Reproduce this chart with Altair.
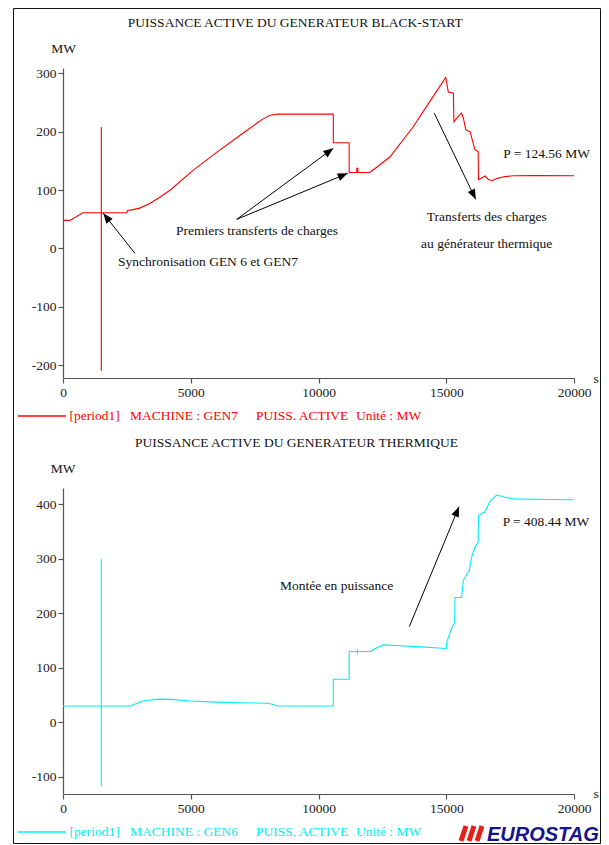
import math
import altair as alt
import pandas as pd

# ---------------- data ----------------
gen7_t = [0, 270, 780, 1500, 1500, 1500, 1500, 2500, 2520, 2700, 3000, 3400, 3800, 4200,
          5100, 6000, 7000, 7800, 8100, 8400, 10580, 10580, 11200, 11200, 11500, 11500,
          11540, 11540, 12000, 12280, 12800, 13700, 14300, 14980, 15080, 15280, 15300,
          15450, 15600, 15670, 15770, 15930, 16000, 16120, 16250, 16260, 16400, 16520,
          16650, 16780, 17000, 17300, 17650, 18500, 20000]
gen7_mw = [48, 48, 61, 61, 208, -210, 61, 61, 65, 66, 69, 77, 88, 100,
           134, 164, 196, 221, 228, 230, 230, 181, 181, 130, 130, 137,
           137, 130, 130, 139, 157, 208, 248, 293, 268, 266, 217,
           225, 232, 223, 203, 200, 189, 169, 166, 118, 121, 124,
           118, 116, 120, 123, 124.5, 124.6, 124.56]

gen6_t = [0, 1500, 1500, 1500, 1500, 2650, 2900, 3200, 3800, 4200, 5000, 6000, 7000,
          8000, 8200, 8400, 10580, 10580, 11200, 11200, 11520, 11520, 11520, 11520,
          12050, 12200, 12550, 13000, 14000, 15000, 15030, 15200, 15330, 15340, 15600,
          15670, 15900, 16000, 16130, 16250, 16260, 16500, 16580, 16710, 16970, 17300,
          17650, 19000, 20000]
gen6_mw = [30, 30, 300, -118, 30, 30, 35, 40, 42.5, 42, 39, 37, 36,
           35, 33, 30, 30, 79, 79, 130, 130, 135, 125, 130,
           130, 135, 142, 141, 138.5, 135.5, 148, 172, 182, 229, 229,
           261, 279, 304, 322, 331, 380, 386, 393, 405, 417, 413,
           410, 409, 408.44]

x_ticks = [0, 5000, 10000, 15000, 20000]
top_y_ticks = [-200, -100, 0, 100, 200, 300]
bot_y_ticks = [-100, 0, 100, 200, 300, 400]

top_note_text = ["Synchronisation GEN 6 et GEN7", "Premiers transferts de charges", "P = 124.56 MW"]
top_note_t = [2153, 4423, 17233]
top_note_mw = [-23.5, 30.2, 161.2]
top_note2_text = ["Transferts des charges", "au générateur thermique"]
top_note2_t = [16583, 16583]
top_note2_mw = [54.2, 7.4]
top_arrow_t0 = [2818, 6798, 6798, 14532]
top_arrow_mw0 = [-8.6, 49.7, 49.7, 231.6]
top_arrow_t1 = [1577, 10579, 11143, 16153]
top_arrow_mw1 = [60, 171.5, 128.6, 84]

bot_note_text = ["Montée en puissance", "P = 408.44 MW"]
bot_note_t = [8493, 17210]
bot_note_mw = [250, 367]
bot_arrow_t0 = [13553]
bot_arrow_mw0 = [175.4]
bot_arrow_t1 = [15499]
bot_arrow_mw1 = [395.6]

# ---------------- layout / style ----------------
W, H = 511, 726
TOP_RANGE = [310, 0]
BOT_RANGE = [726, 420]
TOP_DOM = [-222, 309]
BOT_DOM = [-131.6, 430]
PAD = {"left": 55, "top": 60, "right": 27, "bottom": 51}
BOTTOM_EDGE = H + PAD["bottom"]   # chart y of the bottom of the drawing
RIGHT_EDGE = W + PAD["right"]     # chart x of the right of the drawing
RED = "#ff0000"
CYAN = "#00eef5"
SERIF = "Liberation Serif, Times New Roman, serif"
FS = 13.5
ARROW = "M0,0L-0.4,1L0.4,1Z"


def axis(values, orient, offset=0):
    return alt.Axis(values=values, orient=orient, offset=offset, title=None, grid=False,
                    labelExpr="toString(datum.value)", labelFont=SERIF, labelFontSize=FS,
                    labelColor="#222", labelFlush=False, labelOverlap=False, labelPadding=2,
                    tickSize=5, tickColor="#555", domainColor="#555", domainWidth=1.2,
                    tickWidth=1.2)


def panel(t, mw, color, dom, rng, yticks, xoff, notes, notes_c, arrows):
    xs = alt.Scale(domain=[0, 20000], nice=False, zero=False)
    ys = alt.Scale(domain=dom, range=rng, nice=False, zero=False)
    xa = axis(x_ticks, "bottom", xoff)
    ya = axis(yticks, "left")
    X = alt.X("t:Q", scale=xs, axis=xa)
    Y = alt.Y("mw:Q", scale=ys, axis=ya)

    df = pd.DataFrame({"t": t, "mw": mw, "i": list(range(len(t)))})
    line = alt.Chart(df).mark_line(color=color, strokeWidth=1.1, interpolate="linear").encode(
        x=X, y=Y, order=alt.Order("i:Q"))

    kx = W / 20000.0
    ky = abs(rng[0] - rng[1]) / (dom[1] - dom[0])
    t0, m0, t1, m1 = arrows
    angs = []
    for a, b, c, d in zip(t0, m0, t1, m1):
        dx = (c - a) * kx
        dy = -(d - b) * ky
        angs.append(math.degrees(math.atan2(dx, -dy)) % 360)
    adf = pd.DataFrame({"t": t0, "mw": m0, "t1": t1, "mw1": m1, "ang": angs})
    rules = alt.Chart(adf).mark_rule(color="black", strokeWidth=1).encode(
        x=X, y=Y, x2="t1:Q", y2="mw1:Q")
    hdf = pd.DataFrame({"t": t1, "mw": m1, "ang": angs})
    heads = alt.Chart(hdf).mark_point(shape=ARROW, filled=True, color="black", size=400,
                                      opacity=1, strokeWidth=0).encode(
        x=X, y=Y, angle=alt.Angle("ang:Q", scale=None))

    ntext, nt, nm = notes
    ndf = pd.DataFrame({"t": nt, "mw": nm, "label": ntext})
    txt = alt.Chart(ndf).mark_text(align="left", baseline="middle", font=SERIF, fontSize=FS,
                                   color="#111").encode(x=X, y=Y, text="label:N")
    layers = [line, rules, heads, txt]
    if notes_c is not None:
        ctext, ct, cm = notes_c
        cdf = pd.DataFrame({"t": ct, "mw": cm, "label": ctext})
        layers.append(alt.Chart(cdf).mark_text(align="center", baseline="middle", font=SERIF,
                                               fontSize=FS, color="#111").encode(
            x=X, y=Y, text="label:N"))
    return alt.layer(*layers)


top = panel(gen7_t, gen7_mw, RED, TOP_DOM, TOP_RANGE, top_y_ticks, -(H - TOP_RANGE[0]),
            (top_note_text, top_note_t, top_note_mw),
            (top_note2_text, top_note2_t, top_note2_mw),
            (top_arrow_t0, top_arrow_mw0, top_arrow_t1, top_arrow_mw1))
bot = panel(gen6_t, gen6_mw, CYAN, BOT_DOM, BOT_RANGE, bot_y_ticks, 0,
            (bot_note_text, bot_note_t, bot_note_mw), None,
            (bot_arrow_t0, bot_arrow_mw0, bot_arrow_t1, bot_arrow_mw1))

one = pd.DataFrame({"k": [0]})


def label(txt, x, y, color="#111", align="center", size=FS, font=SERIF, **kw):
    return alt.Chart(one).mark_text(align=align, baseline="middle", font=font, fontSize=size,
                                    color=color, **kw).encode(
        x=alt.value(x), y=alt.value(y), text=alt.value(txt))


def seg(x, y, x2, y2, color, width):
    return alt.Chart(one).mark_rule(color=color, strokeWidth=width).encode(
        x=alt.value(x), y=alt.value(y), x2=alt.value(x2), y2=alt.value(y2))


frame = alt.Chart(one).mark_rect(fillOpacity=0, stroke="#111", strokeWidth=1).encode(
    x=alt.value(-49.5), x2=alt.value(RIGHT_EDGE - 0.5), y=alt.value(-59.5),
    y2=alt.value(BOTTOM_EDGE - 1.5))

LEG2 = 764
LOGO_B = BOTTOM_EDGE - 4

chrome = [
    label("PUISSANCE ACTIVE DU GENERATEUR BLACK-START", 232.3, -45.3),
    label("MW", 0.5, -19),
    label("s", 533, 311),
    seg(-45, 348, 3, 348, RED, 1.3),
    label("[period1]", 6.5, 348, color=RED, align="left"),
    label("MACHINE : GEN7", 67, 348, color=RED, align="left"),
    label("PUISS. ACTIVE", 193, 348, color=RED, align="left"),
    label("Unité : MW", 293, 348, color=RED, align="left"),
    label("PUISSANCE ACTIVE DU GENERATEUR THERMIQUE", 233.4, 375.3),
    label("MW", 0, 401),
    label("s", 533, 726),
    seg(-45, LEG2, 3, LEG2, CYAN, 1.3),
    label("[period1]", 6.5, LEG2, color=CYAN, align="left"),
    label("MACHINE : GEN6", 67, LEG2, color=CYAN, align="left"),
    label("PUISS. ACTIVE", 193, LEG2, color=CYAN, align="left"),
    label("Unité : MW", 293, LEG2, color=CYAN, align="left"),
    seg(398, LOGO_B, 403, LOGO_B - 15, "#e32119", 5),
    seg(406, LOGO_B, 411, LOGO_B - 15, "#e32119", 5),
    seg(414, LOGO_B, 419, LOGO_B - 15, "#e32119", 5),
    alt.Chart(one).mark_text(align="left", baseline="alphabetic", font="Liberation Sans",
                             fontSize=20, fontStyle="italic", fontWeight="bold",
                             color="#14148c").encode(
        x=alt.value(424), y=alt.value(LOGO_B), text=alt.value("EUROSTAG")),
]

chart = alt.layer(frame, top, bot, *chrome).resolve_scale(
    x="independent", y="independent"
).properties(
    width=W, height=H,
    padding=PAD,
    autosize=alt.AutoSizeParams(type="none"),
    background="white",
).configure_view(strokeWidth=0)

chart.save("out.html", embed_options={"renderer": "svg", "actions": False})
